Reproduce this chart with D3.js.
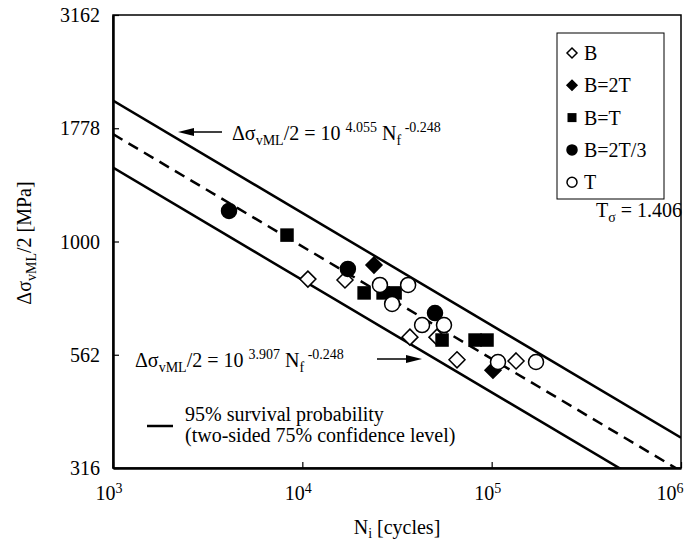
<!DOCTYPE html>
<html>
<head>
<meta charset="utf-8">
<script src="https://cdn.jsdelivr.net/npm/d3@7"></script>
<style>
  body { margin: 0; background: #fff; }
  svg { display: block; }
  svg text { font-family: "Liberation Serif", "Times New Roman", serif; }
</style>
</head>
<body>
<svg id="chart" width="686" height="543"></svg>
<script>
// fatigue data, [N_i, stress amplitude MPa]
const series_names = ["B", "B=2T", "B=T", "B=2T/3", "T"];
const pts_B = [[10700, 826], [16800, 822], [37000, 615], [51400, 615], [65600, 548], [134500, 545]];
const pts_B2T = [[23900, 887], [101600, 520]];
const pts_BT = [[8300, 1033], [21200, 770], [26700, 770], [30900, 770], [54700, 606], [81700, 606], [94500, 606]];
const pts_B2T3 = [[4100, 1168], [17400, 870], [50200, 695]];
const pts_T = [[25700, 802], [29800, 728], [36200, 802], [42900, 654], [56000, 654], [108000, 542], [171500, 542]];

const y_tick_vals = [Math.pow(10, 2.5), Math.pow(10, 2.75), 1000, Math.pow(10, 3.25), Math.pow(10, 3.5)];
const y_tick_labels = ["316", "562", "1000", "1778", "3162"];
const x_tick_vals = [1e3, 1e4, 1e5, 1e6];
const x_tick_exp = ["3", "4", "5", "6"];

// S-N curves: log10(S) = a - b*log10(N)
const slope = 0.248;
const intercepts = { upper: 4.055, mean: 3.981, lower: 3.907 };
const t_sigma = "1.406";

const svg = d3.select("#chart");
const margin = { left: 113, right: 5, top: 15, bottom: 75 };
const width = 686, height = 543;
const fs = 20;

const x = d3.scaleLog().domain([1e3, 1e6]).range([margin.left, width - margin.right]);
const y = d3.scaleLog().domain([Math.pow(10, 2.5), Math.pow(10, 3.5)]).range([height - margin.bottom, margin.top]);

svg.append("defs").append("clipPath").attr("id", "plot-clip")
  .append("rect")
  .attr("x", x.range()[0]).attr("y", y.range()[1])
  .attr("width", x.range()[1] - x.range()[0])
  .attr("height", y.range()[0] - y.range()[1]);

// frame
svg.append("rect")
  .attr("x", x.range()[0]).attr("y", y.range()[1])
  .attr("width", x.range()[1] - x.range()[0])
  .attr("height", y.range()[0] - y.range()[1])
  .attr("fill", "none").attr("stroke", "#000").attr("stroke-width", 1.5);

// axes
const xAxis = (g) =>
  g.attr("transform", `translate(0, ${ y.range()[0] })`)
    .call(d3.axisBottom(x).tickValues(x_tick_vals).tickSizeInner(-6).tickSizeOuter(0).tickFormat(""))
    .call((g) => g.select(".domain").attr("stroke-width", 2.5))
    .call((g) => g.selectAll(".tick line").attr("stroke-width", 1.2));

const yAxis = (g) =>
  g.attr("transform", `translate(${ x.range()[0] }, 0)`)
    .call(d3.axisLeft(y).tickValues(y_tick_vals).tickSizeInner(-6).tickSizeOuter(0).tickFormat(""))
    .call((g) => g.select(".domain").attr("stroke-width", 2.5))
    .call((g) => g.selectAll(".tick line").attr("stroke-width", 1.2));

svg.append("g").call(xAxis);
svg.append("g").call(yAxis);

svg.append("g")
  .selectAll("text")
  .data(y_tick_vals)
  .enter()
  .append("text")
  .attr("x", x.range()[0] - 13)
  .attr("y", (d) => y(d))
  .attr("dy", "0.35em")
  .attr("text-anchor", "end")
  .style("font-size", fs + "px")
  .text((d, i) => y_tick_labels[i]);

const xt = svg.append("g")
  .selectAll("text")
  .data(x_tick_vals)
  .enter()
  .append("text")
  .attr("x", (d) => Math.min(x(d) - 4, width - 16))
  .attr("y", y.range()[0] + 32)
  .attr("text-anchor", "middle")
  .style("font-size", fs + "px");
xt.append("tspan").text("10");
xt.append("tspan").attr("dy", -7).style("font-size", "14px").text((d, i) => x_tick_exp[i]);

// axis titles
const xl = svg.append("text")
  .attr("x", (x.range()[0] + x.range()[1]) / 2)
  .attr("y", 534)
  .attr("text-anchor", "middle")
  .style("font-size", fs + "px");
xl.append("tspan").text("N");
xl.append("tspan").attr("dy", 4).style("font-size", "14px").text("i");
xl.append("tspan").attr("dy", -4).text(" [cycles]");

const yl = svg.append("text")
  .attr("transform", `translate(31, 243) rotate(-90)`)
  .attr("text-anchor", "middle")
  .style("font-size", fs + "px");
yl.append("tspan").text("Δσ");
yl.append("tspan").attr("dy", 5).style("font-size", "14px").text("vML");
yl.append("tspan").attr("dy", -5).text("/2 [MPa]");

// S-N lines
const line_data = [
  { a: intercepts.upper, dash: null },
  { a: intercepts.mean, dash: "11,7" },
  { a: intercepts.lower, dash: null }
];
const sn = (a, n) => Math.pow(10, a - slope * Math.log10(n));

svg.append("g")
  .attr("clip-path", "url(#plot-clip)")
  .selectAll("line")
  .data(line_data)
  .enter()
  .append("line")
  .attr("x1", x(1e3)).attr("y1", (d) => y(sn(d.a, 1e3)))
  .attr("x2", x(1e6)).attr("y2", (d) => y(sn(d.a, 1e6)))
  .attr("stroke", "#000")
  .attr("stroke-width", 2.5)
  .attr("stroke-dasharray", (d) => d.dash);

// markers
function draw_marker(g, kind, cx, cy, s) {
  if (kind === "diamond" || kind === "diamond-fill") {
    g.append("path")
      .attr("d", `M${ cx },${ cy - s }L${ cx + s },${ cy }L${ cx },${ cy + s }L${ cx - s },${ cy }Z`)
      .attr("fill", kind === "diamond" ? "#fff" : "#000")
      .attr("stroke", "#000").attr("stroke-width", 1.5);
  } else if (kind === "square") {
    g.append("rect")
      .attr("x", cx - s * 0.9).attr("y", cy - s * 0.9)
      .attr("width", s * 1.8).attr("height", s * 1.8)
      .attr("fill", "#000");
  } else {
    g.append("circle")
      .attr("cx", cx).attr("cy", cy).attr("r", s)
      .attr("fill", kind === "circle" ? "#fff" : "#000")
      .attr("stroke", "#000").attr("stroke-width", 1.5);
  }
}

const series = [
  { name: series_names[0], pts: pts_B, kind: "diamond" },
  { name: series_names[1], pts: pts_B2T, kind: "diamond-fill" },
  { name: series_names[2], pts: pts_BT, kind: "square" },
  { name: series_names[3], pts: pts_B2T3, kind: "circle-fill" },
  { name: series_names[4], pts: pts_T, kind: "circle" }
];

const marks = svg.append("g");
series.forEach((s) => {
  s.pts.forEach((p) => {
    draw_marker(marks, s.kind, x(p[0]), y(p[1]), s.kind.startsWith("diamond") ? 8 : 7.5);
  });
});

// legend box
const legend = svg.append("g");
legend.append("rect")
  .attr("x", 557).attr("y", 33).attr("width", 107).attr("height", 166)
  .attr("fill", "#fff").attr("stroke", "#000").attr("stroke-width", 1);

series.forEach((s, i) => {
  const cy = 53 + i * 32.3;
  draw_marker(legend, s.kind, 572, cy, 5);
  legend.append("text")
    .attr("x", 584).attr("y", cy).attr("dy", "0.35em")
    .style("font-size", fs + "px")
    .text(s.name);
});

const ts = svg.append("text").attr("x", 596).attr("y", 217).style("font-size", fs + "px");
ts.append("tspan").text("T");
ts.append("tspan").attr("dy", 5).style("font-size", "14px").text("σ");
ts.append("tspan").attr("dy", -5).text(" = " + t_sigma);

// equation labels
function equation(xp, yp, a) {
  const t = svg.append("text").attr("x", xp).attr("y", yp).style("font-size", fs + "px");
  t.append("tspan").text("Δσ");
  t.append("tspan").attr("dy", 5).style("font-size", "14px").text("vML");
  t.append("tspan").attr("dy", -5).text("/2 = 10 ");
  t.append("tspan").attr("dy", -8).style("font-size", "14px").text(a.toFixed(3));
  t.append("tspan").attr("dy", 8).text(" N");
  t.append("tspan").attr("dy", 5).style("font-size", "14px").text("f");
  t.append("tspan").attr("dy", -13).style("font-size", "14px").text(" -" + slope.toFixed(3));
}
equation(232, 140, intercepts.upper);
equation(135, 367, intercepts.lower);

// arrows
function arrow(x1, x2, yp) {
  const dir = Math.sign(x2 - x1);
  svg.append("line")
    .attr("x1", x1).attr("y1", yp).attr("x2", x2 - dir * 12).attr("y2", yp)
    .attr("stroke", "#000").attr("stroke-width", 1.5);
  svg.append("path")
    .attr("d", `M${ x2 },${ yp }L${ x2 - dir * 16 },${ yp - 4 }L${ x2 - dir * 16 },${ yp + 4 }Z`)
    .attr("fill", "#000");
}
arrow(222, 178, 132);
arrow(377, 422, 359);

// bottom legend for survival lines
svg.append("line")
  .attr("x1", 147).attr("x2", 173).attr("y1", 426).attr("y2", 426)
  .attr("stroke", "#000").attr("stroke-width", 2.5);
svg.append("text").attr("x", 185).attr("y", 421).style("font-size", fs + "px")
  .text("95% survival probability");
svg.append("text").attr("x", 185).attr("y", 442).style("font-size", fs + "px")
  .text("(two-sided 75% confidence level)");
</script>
</body>
</html>
